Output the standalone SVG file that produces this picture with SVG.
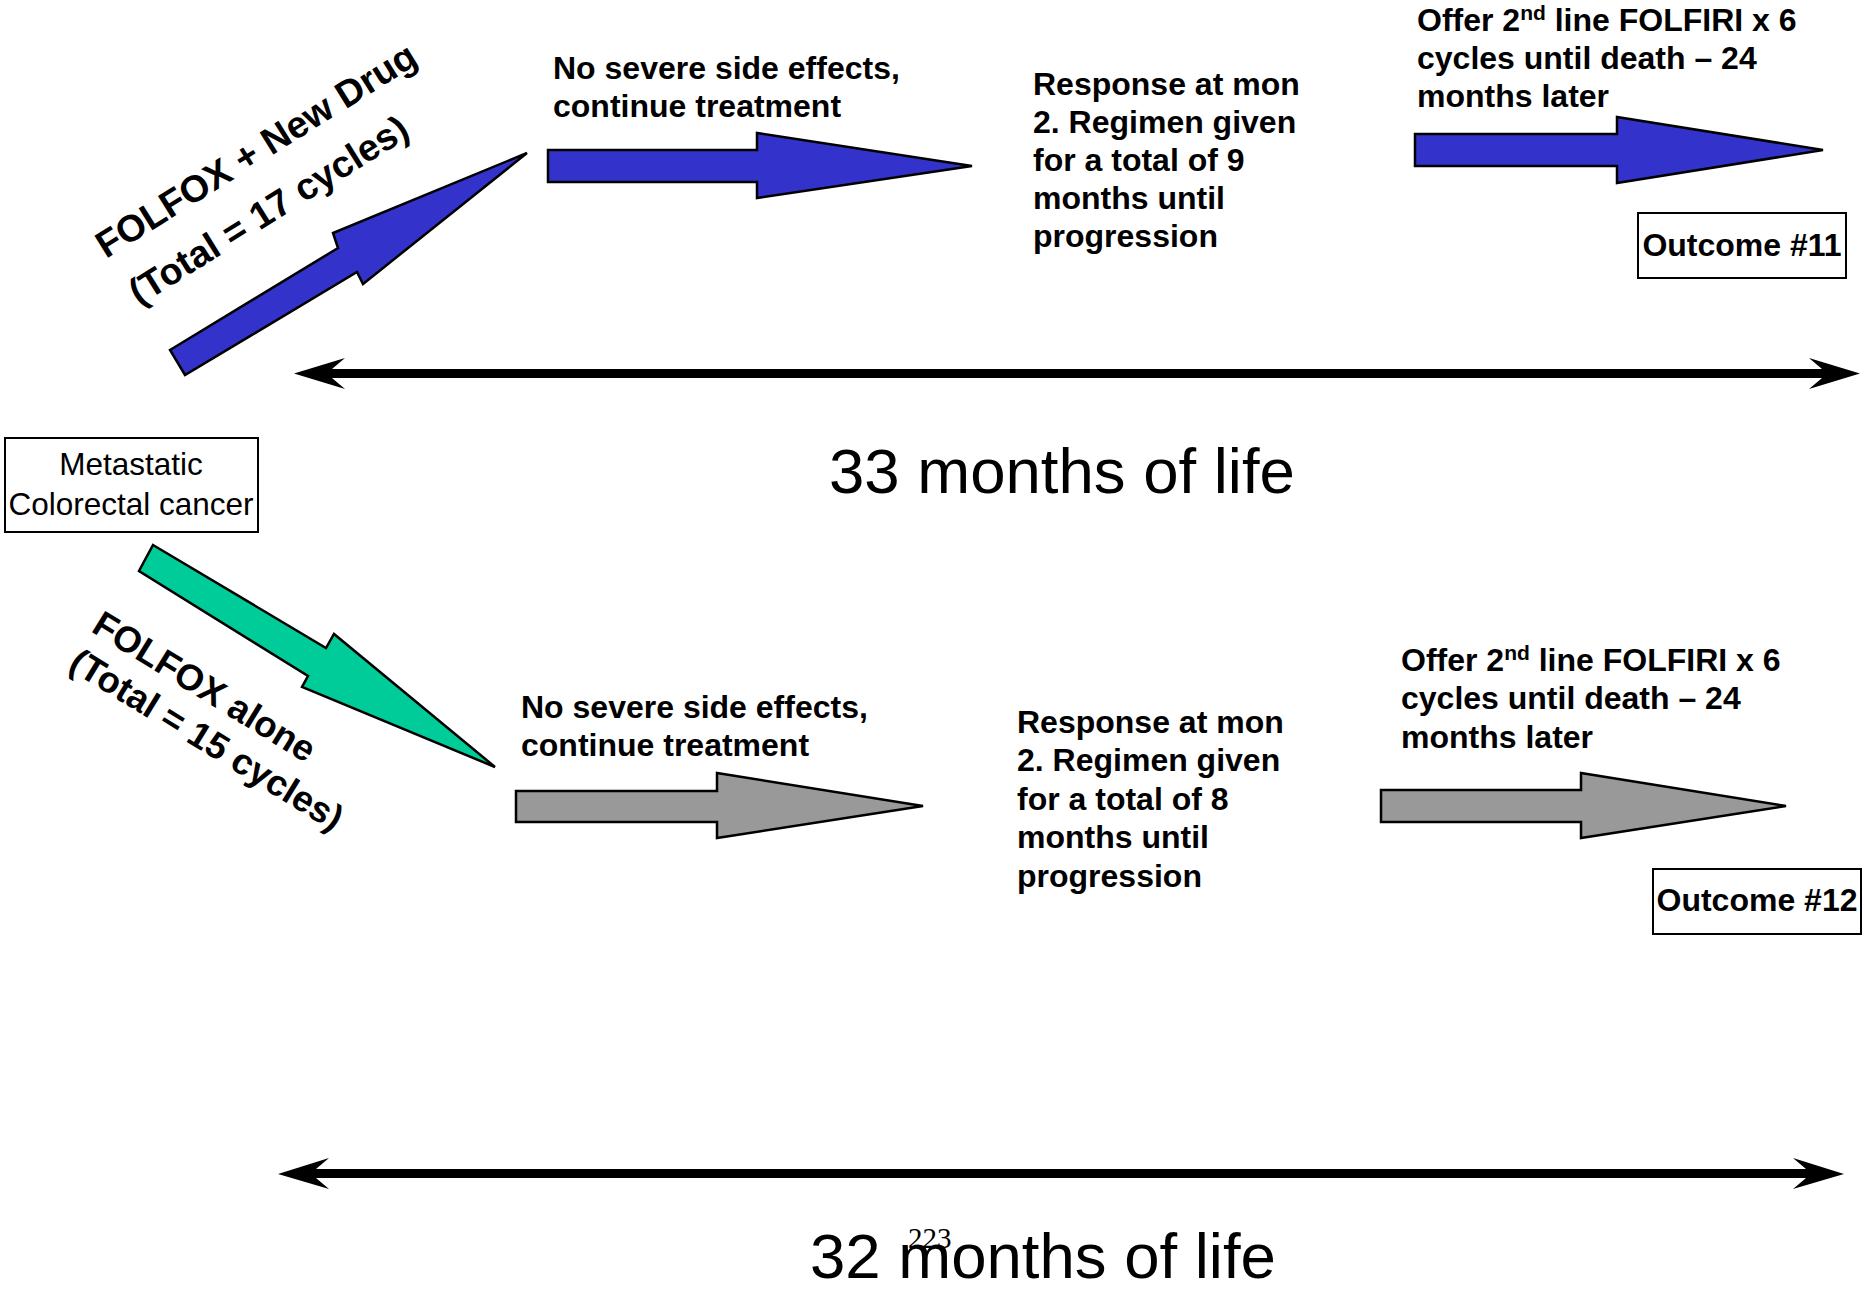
<svg xmlns="http://www.w3.org/2000/svg" width="1865" height="1289" viewBox="0 0 1865 1289">
<style>
.b{font-family:"Liberation Sans",Arial,sans-serif;font-weight:bold;font-size:32px;fill:#000}
.r{font-family:"Liberation Sans",Arial,sans-serif;font-size:31.5px;fill:#000}
.big{font-family:"Liberation Sans",Arial,sans-serif;font-size:63.5px;fill:#000}
.rot{font-family:"Liberation Sans",Arial,sans-serif;font-weight:bold;font-size:37.5px;fill:#000}
.blue{fill:#3333CC;stroke:#000;stroke-width:2.5;stroke-linejoin:miter}
.gray{fill:#999999;stroke:#000;stroke-width:2.5}
.green{fill:#00CC99;stroke:#000;stroke-width:2.5}
.box{fill:#fff;stroke:#000;stroke-width:2}
.dbl{fill:#000;stroke:none}
</style>
<rect width="1865" height="1289" fill="#fff"/>
<g id="start">
<rect class="box" x="5" y="438" width="253" height="94"/>
<text class="r" x="131" y="475" text-anchor="middle">Metastatic</text>
<text class="r" x="131" y="515" text-anchor="middle">Colorectal cancer</text>
</g>
<g id="arm-new-drug-label">
<text class="rot" transform="translate(106,259) rotate(-32)">FOLFOX + New Drug</text>
<text class="rot" transform="translate(139,306) rotate(-32)">(Total = 17 cycles)</text>
</g>
<g id="arm-alone-label">
<g transform="translate(90,631) rotate(31.5)">
<text class="rot" x="0" y="0" style="font-size:36.5px">FOLFOX alone</text>
<text class="rot" x="0" y="44" style="font-size:36.5px">(Total = 15 cycles)</text>
</g>
</g>
<g id="top-step1">
<text class="b" x="553" y="79">No severe side effects,</text>
<text class="b" x="553" y="117">continue treatment</text>
</g>
<g id="top-step2">
<text class="b" x="1033" y="95">Response at mon</text>
<text class="b" x="1033" y="133">2. Regimen given</text>
<text class="b" x="1033" y="171">for a total of 9</text>
<text class="b" x="1033" y="209">months until</text>
<text class="b" x="1033" y="247">progression</text>
</g>
<g id="top-step3">
<text class="b" x="1417" y="31">Offer 2<tspan dy="-11" font-size="21">nd</tspan><tspan dy="11"> line FOLFIRI x 6</tspan></text>
<text class="b" x="1417" y="69">cycles until death – 24</text>
<text class="b" x="1417" y="107">months later</text>
</g>
<g id="outcome11">
<rect class="box" x="1638" y="213" width="208" height="65"/>
<text class="b" x="1742" y="256" text-anchor="middle">Outcome #11</text>
</g>
<g id="bottom-step1">
<text class="b" x="521" y="718">No severe side effects,</text>
<text class="b" x="521" y="756">continue treatment</text>
</g>
<g id="bottom-step2">
<text class="b" x="1017" y="733">Response at mon</text>
<text class="b" x="1017" y="771">2. Regimen given</text>
<text class="b" x="1017" y="810">for a total of 8</text>
<text class="b" x="1017" y="848">months until</text>
<text class="b" x="1017" y="887">progression</text>
</g>
<g id="bottom-step3">
<text class="b" x="1401" y="671">Offer 2<tspan dy="-11" font-size="21">nd</tspan><tspan dy="11"> line FOLFIRI x 6</tspan></text>
<text class="b" x="1401" y="709">cycles until death – 24</text>
<text class="b" x="1401" y="748">months later</text>
</g>
<g id="outcome12">
<rect class="box" x="1653" y="869" width="208" height="65"/>
<text class="b" x="1757" y="911" text-anchor="middle">Outcome #12</text>
</g>
<g id="label-33">
<text class="big" x="829" y="493">33 months of life</text>
</g>
<g id="label-32">
<text class="big" x="810" y="1278">32 months of life</text>
</g>
<g id="page-number">
<text x="908" y="1248" style="font-family:'Liberation Serif','Times New Roman',serif;font-size:29px">223</text>
</g>
<g id="connectors">
<polygon class="blue" points="170,350 338,248 333,233 527,153 363,284 357,272 185,375"/>
<polygon class="blue" points="548,150 757,150 757,133 972,166 757,198 757,182 548,182"/>
<polygon class="blue" points="1415,134 1617,134 1617,117 1823,150 1617,183 1617,166 1415,166"/>
<polygon class="green" points="153,545 326,648 334,634 495,767 302,687 308,676 139,571"/>
<polygon class="gray" points="516,791 717,791 717,773 923,806 717,838 717,822 516,822"/>
<polygon class="gray" points="1381,790 1581,790 1581,773 1786,806 1581,838 1581,822 1381,822"/>
<polygon class="dbl" points="294,373.5 345,358 332,369 1822,369 1809,358 1860,373.5 1809,389 1822,378 332,378 345,389"/>
<polygon class="dbl" points="278,1174 329,1158 316,1169 1806,1169 1793,1158 1844,1174 1793,1189 1806,1178 316,1178 329,1189"/>
</g>
</svg>
